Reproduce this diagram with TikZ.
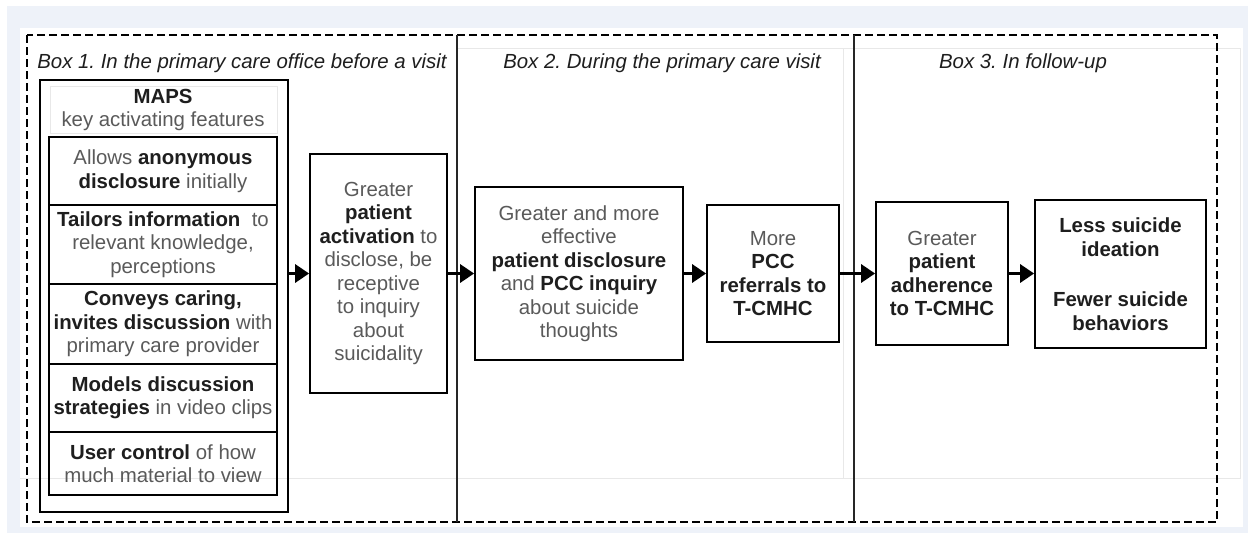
\documentclass[tikz,border=0pt]{standalone}
\usepackage{fontspec}
\setmainfont{Liberation Sans}
\usetikzlibrary{arrows.meta}
\definecolor{bgblue}{RGB}{238,242,249}
\definecolor{gtxt}{RGB}{90,90,90}
\definecolor{btxt}{RGB}{30,30,30}
\definecolor{faint}{RGB}{232,232,232}
\newcommand{\bt}[1]{\textbf{\color{btxt}#1}}
\frenchspacing
\tikzset{
  txt/.style={font=\fontsize{20.4}{23.5}\selectfont, text=gtxt, align=center, inner sep=0pt},
  bx/.style={txt, draw=black, line width=1.8pt},
  feat/.style={bx, minimum width=228pt},
  ttl/.style={font=\fontsize{20.4}{23.5}\selectfont\itshape, text=btxt, inner sep=0pt},
  arr/.style={line width=3.2pt, -{Triangle[length=14pt,width=18pt]}},
  frame/.style={line width=2pt, dash pattern=on 8pt off 4pt},
  sep/.style={line width=1.6pt, black!85},
  faintline/.style={faint, line width=0.8pt}
}
\begin{document}
\begin{tikzpicture}[x=1pt,y=-1pt]
\fill[white] (0,0) rectangle (1253,533);
\fill[bgblue] (7,6) rectangle (1248,533);
\fill[white] (20,28) rectangle (1243,527);
\useasboundingbox (0,0) rectangle (1253,533);

% faint background lines
\draw[faintline] (457,48) -- (1240,48) -- (1240,478) -- (20,478);
\draw[faintline] (843,48) -- (843,478);

% outer dashed frame and separators
\draw[frame] (27,35) rectangle (1217,522);
\draw[sep] (457,35) -- (457,522);
\draw[sep] (854,35) -- (854,522);

% titles
\node[ttl] (t1) at (242,63) {Box 1. In the primary care office before a visit};
\node[ttl] (t2) at (662,63) {Box 2. During the primary care visit};
\node[ttl] (t3) at (1023,63) {Box 3. In follow-up};

% MAPS block
\node[bx, minimum width=248pt, minimum height=432pt] (maps) at (164,296) {};
\draw[faint, line width=1pt] (50,86) rectangle (277,133);
\node[txt] (hdr) at (163,110) {\bt{MAPS}\\key activating features};
\node[feat, minimum height=68pt] (fa) at (163,171) {Allows \bt{anonymous}\\\bt{disclosure} initially};
\node[feat, minimum height=79pt] (fb) at (163,244.5) {\bt{Tailors information}\ \ to\\relevant knowledge,\\perceptions};
\node[feat, minimum height=80pt] (fc) at (163,324) {\bt{Conveys caring,}\\\bt{invites discussion} with\\primary care provider};
\node[feat, minimum height=68pt] (fd) at (163,398) {\bt{Models discussion}\\\bt{strategies} in video clips};
\node[feat, minimum height=63pt] (fe) at (163,463.5) {\bt{User control} of how\\much material to view};

% flow boxes
\node[bx, minimum width=137pt, minimum height=239pt] (act) at (378.5,273.5)
  {Greater\\\bt{patient}\\\bt{activation} to\\disclose, be\\receptive\\to inquiry\\about\\suicidality};
\node[bx, minimum width=208pt, minimum height=173pt] (disc) at (579,273.5)
  {Greater and more\\effective\\\bt{patient disclosure}\\and \bt{PCC inquiry}\\about suicide\\thoughts};
\node[bx, minimum width=132pt, minimum height=137pt] (pcc) at (773,273.5)
  {More\\\bt{PCC}\\\bt{referrals to}\\\bt{T-CMHC}};
\node[bx, minimum width=132pt, minimum height=143pt] (adh) at (942,273.5)
  {Greater\\\bt{patient}\\\bt{adherence}\\\bt{to T-CMHC}};
\node[bx, minimum width=171pt, minimum height=148pt] (out) at (1120.5,274)
  {\bt{Less suicide}\\\bt{ideation}\\[27pt]\bt{Fewer suicide}\\\bt{behaviors}};

% arrows
\draw[arr] (maps.east |- act.west) -- (act.west);
\draw[arr] (act.east) -- (disc.west);
\draw[arr] (disc.east) -- (pcc.west);
\draw[arr] (pcc.east) -- (adh.west);
\draw[arr] (adh.east) -- (out.west |- adh.east);
\end{tikzpicture}
\end{document}
